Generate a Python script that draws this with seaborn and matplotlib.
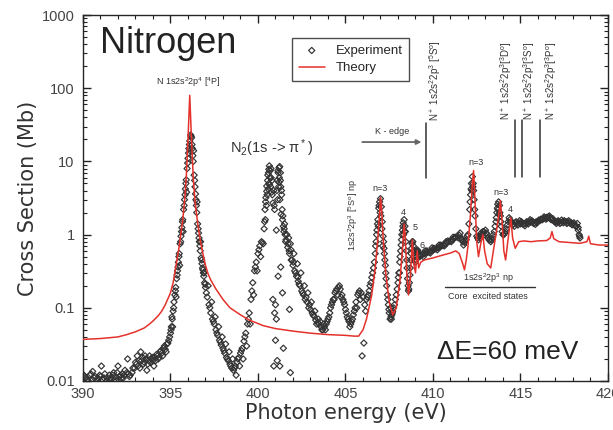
#!/usr/bin/env python3

import matplotlib
matplotlib.use("Agg")
import matplotlib.pyplot as plt
from matplotlib.ticker import MultipleLocator, LogLocator, FuncFormatter, NullFormatter
import seaborn as sns
import pandas as pd
import numpy as np

# ===================== DATA =====================

# Experiment (photon energy in eV, cross section in Mb)
exp_energy_pre = [390.05, 390.15, 390.3, 390.4, 390.55, 390.65, 390.8, 390.95, 391.05, 391.2,
                  391.35, 391.5, 391.6, 391.75, 391.9, 392.0, 392.15, 392.3, 392.4, 392.55,
                  392.7, 392.85, 393.0, 393.1, 393.2, 393.3, 393.4, 393.5, 393.6, 393.7,
                  393.8, 393.9, 394.0, 394.1, 394.2, 394.3, 394.4, 394.5, 394.6, 394.7,
                  394.8, 394.9, 390.5, 391.0, 391.8, 392.2, 392.6, 393.25, 393.65, 394.05,
                  390.1, 390.25, 390.45, 390.7, 390.85, 391.1, 391.25, 391.4, 391.55, 391.7,
                  391.85, 391.95, 392.1, 392.25, 392.35, 392.5, 392.65, 392.8, 392.95, 393.05,
                  393.15, 393.35, 393.45, 393.55, 393.75, 393.85, 393.95, 394.15, 394.25, 394.35,
                  394.45, 394.55, 394.65, 394.75, 394.85, 394.95]
exp_cross_pre = [0.012, 0.011, 0.010, 0.012, 0.0135, 0.011, 0.010, 0.012, 0.016, 0.011,
                 0.010, 0.012, 0.011, 0.013, 0.010, 0.016, 0.012, 0.011, 0.014, 0.020,
                 0.012, 0.015, 0.018, 0.022, 0.019, 0.025, 0.021, 0.018, 0.020, 0.017,
                 0.022, 0.020, 0.019, 0.021, 0.023, 0.020, 0.025, 0.024, 0.028, 0.027,
                 0.032, 0.036, 0.0105, 0.0115, 0.0105, 0.011, 0.0125, 0.015, 0.014, 0.016,
                 0.0115, 0.0105, 0.0125, 0.0115, 0.011, 0.0105, 0.0125, 0.011, 0.0105, 0.012,
                 0.0115, 0.013, 0.0115, 0.0125, 0.012, 0.013, 0.0115, 0.013, 0.015, 0.017,
                 0.016, 0.019, 0.017, 0.022, 0.019, 0.018, 0.021, 0.019, 0.022, 0.021,
                 0.026, 0.022, 0.030, 0.025, 0.033, 0.040]

exp_energy_peak = [395.0, 395.05, 395.1, 395.15, 395.2, 395.25, 395.3, 395.35, 395.4, 395.45,
                   395.5, 395.55, 395.6, 395.65, 395.7, 395.75, 395.8, 395.85, 395.9, 395.95,
                   396.0, 396.05, 396.1, 396.15, 396.2, 396.25, 396.3, 396.35, 396.4, 396.45,
                   396.5, 396.55, 396.6, 396.65, 396.7, 396.75, 396.8, 396.85, 396.9, 396.95,
                   397.0, 397.1, 397.2, 397.3, 397.4, 397.5, 397.6, 397.7, 397.8, 397.9,
                   398.0, 398.1, 398.2, 398.3, 398.4, 398.5, 398.6, 398.7, 398.8, 398.9,
                   399.0, 399.1, 399.2, 399.3, 399.4, 399.5, 399.6, 399.7, 399.8, 399.9,
                   400.0, 400.1, 400.2, 400.3,
                   395.12, 395.32, 395.52, 395.72, 395.92, 396.12, 396.32, 396.52, 396.72, 396.92,
                   397.15, 397.35, 397.55, 397.75, 397.95, 398.15, 398.35, 398.55, 398.75, 398.95,
                   399.15, 399.35, 399.55, 399.75, 399.95, 400.15,
                   395.03, 395.08, 395.18, 395.28, 395.38, 395.43, 395.48, 395.58, 395.63, 395.68,
                   395.78, 395.83, 395.88, 395.98, 396.03, 396.08, 396.18, 396.23, 396.28, 396.38,
                   396.43, 396.48, 396.58, 396.63, 396.68, 396.78, 396.83, 396.88, 396.98, 397.05,
                   397.25, 397.45, 397.65, 397.85, 398.05, 398.25, 398.45, 398.65, 398.85, 399.05,
                   399.25, 399.45, 399.65, 399.85, 400.05, 400.25]
exp_cross_peak = [0.045, 0.055, 0.07, 0.09, 0.12, 0.15, 0.19, 0.25, 0.32, 0.42,
                  0.55, 0.75, 0.95, 1.25, 1.6, 2.2, 3.0, 4.2, 5.6, 8.0,
                  11.0, 15.0, 19.0, 23.0, 21.0, 15.0, 10.0, 6.5, 4.5, 3.0,
                  2.0, 1.4, 1.05, 0.8, 0.6, 0.48, 0.4, 0.33, 0.27, 0.22,
                  0.19, 0.14, 0.11, 0.085, 0.07, 0.06, 0.05, 0.042, 0.036, 0.031,
                  0.028, 0.024, 0.021, 0.019, 0.017, 0.015, 0.014, 0.016, 0.018, 0.021,
                  0.024, 0.028, 0.035, 0.045, 0.06, 0.085, 0.13, 0.22, 0.32, 0.42,
                  0.55, 0.7, 0.8, 0.75,
                  0.055, 0.14, 0.38, 1.1, 3.8, 14.0, 14.0, 2.8, 0.8, 0.3,
                  0.2, 0.12, 0.075, 0.055, 0.04, 0.032, 0.025, 0.02, 0.012, 0.016,
                  0.02, 0.03, 0.06, 0.15, 0.32, 0.5,
                  0.05, 0.075, 0.1, 0.17, 0.28, 0.36, 0.5, 0.8, 1.1, 1.5,
                  2.5, 3.5, 5.0, 9.5, 13.0, 17.0, 22.0, 17.0, 12.0, 5.5,
                  3.6, 2.5, 1.2, 0.9, 0.7, 0.45, 0.35, 0.3, 0.21, 0.16,
                  0.1, 0.065, 0.045, 0.034, 0.026, 0.02, 0.016, 0.015, 0.02, 0.026,
                  0.04, 0.07, 0.17, 0.36, 0.62, 0.78]

exp_energy_n2 = [400.35, 400.4, 400.42, 400.45, 400.48, 400.5, 400.52, 400.55, 400.58, 400.6,
                 400.62, 400.65, 400.68, 400.7, 400.72, 400.75, 400.78, 400.8, 400.85, 400.9,
                 400.95, 401.0, 401.05, 401.1, 401.12, 401.15, 401.18, 401.2, 401.22, 401.25,
                 401.28, 401.3, 401.32, 401.35, 401.38, 401.4, 401.45, 401.5, 401.55, 401.6,
                 401.7, 401.75, 401.8, 401.85, 401.9, 402.0, 402.1, 402.2, 402.3, 402.4,
                 402.5, 402.6, 402.7, 402.8, 402.9, 403.0, 403.1, 403.2, 403.3, 403.4,
                 400.85, 400.95, 401.0, 401.1, 401.25, 401.45, 401.8, 401.3, 401.05, 400.9,
                 401.15, 401.4, 401.85, 402.05, 402.25, 402.45, 402.65, 402.85, 403.05, 403.25,
                 400.38, 400.44, 400.5, 400.56, 400.62, 400.66, 400.74, 400.82, 400.92, 401.08,
                 401.14, 401.2, 401.24, 401.28, 401.34, 401.42, 401.48, 401.52, 401.58, 401.65,
                 401.72, 401.78, 401.88, 401.95, 402.02, 402.15, 402.28, 402.35, 402.55, 402.75,
                 402.95, 403.15, 403.35, 403.45]
exp_cross_n2 = [1.2, 2.2, 1.6, 3.2, 2.5, 4.6, 3.5, 5.5, 4.2, 7.0,
                5.0, 8.7, 6.0, 7.5, 4.5, 6.0, 3.8, 5.5, 2.7, 4.0,
                2.2, 0.11, 1.15, 5.5, 3.0, 7.0, 4.5, 8.2, 6.0, 3.0,
                7.0, 4.5, 1.9, 3.5, 2.2, 1.6, 1.3, 1.2, 1.0, 0.85,
                0.67, 0.9, 0.55, 0.75, 0.45, 0.38, 0.32, 0.27, 0.23, 0.2,
                0.17, 0.15, 0.13, 0.12, 0.1, 0.095, 0.085, 0.077, 0.068, 0.063,
                0.13, 0.085, 0.036, 0.019, 0.016, 0.028, 0.095, 0.36, 0.07, 0.016,
                0.27, 0.16, 0.013, 0.55, 0.4, 0.3, 0.2, 0.16, 0.12, 0.09,
                1.5, 2.8, 3.9, 6.5, 7.8, 4.8, 8.0, 3.5, 2.5, 4.0,
                7.5, 5.2, 8.5, 5.5, 4.0, 1.8, 1.1, 1.4, 0.8, 1.0,
                0.75, 0.6, 0.62, 0.45, 0.42, 0.3, 0.26, 0.21, 0.16, 0.14,
                0.11, 0.08, 0.06, 0.07]

exp_energy_mid = [403.5, 403.6, 403.7, 403.8, 403.9, 404.0, 404.1, 404.2, 404.3, 404.4,
                  404.5, 404.6, 404.7, 404.8, 404.9, 405.0, 405.1, 405.2, 405.3, 405.4,
                  405.5, 405.6, 405.7, 405.8, 405.9, 406.0, 406.1, 406.2, 406.3, 406.4,
                  406.5, 406.6, 404.35, 404.55, 404.75, 405.65, 405.85, 405.95, 406.05, 406.15,
                  403.55, 403.65, 403.75, 403.85, 403.95, 404.05, 404.15, 404.25, 404.45, 404.65,
                  404.85, 404.95, 405.05, 405.15, 405.25, 405.35, 405.45, 405.55, 405.75, 406.25,
                  406.35, 406.45, 406.55]
exp_cross_mid = [0.06, 0.055, 0.05, 0.055, 0.06, 0.07, 0.085, 0.11, 0.13, 0.16,
                 0.18, 0.19, 0.18, 0.15, 0.12, 0.095, 0.075, 0.065, 0.06, 0.07,
                 0.09, 0.12, 0.15, 0.17, 0.16, 0.14, 0.11, 0.13, 0.15, 0.2,
                 0.26, 0.35, 0.13, 0.15, 0.14, 0.1, 0.13, 0.022, 0.033, 0.09,
                 0.065, 0.05, 0.06, 0.05, 0.065, 0.075, 0.1, 0.12, 0.17, 0.2,
                 0.13, 0.11, 0.085, 0.07, 0.055, 0.065, 0.08, 0.1, 0.16, 0.14,
                 0.17, 0.22, 0.3]

exp_energy_ryd = [406.65, 406.7, 406.75, 406.8, 406.85, 406.9, 406.95, 407.0, 407.05, 407.1,
                  407.15, 407.2, 407.25, 407.3, 407.35, 407.4, 407.45, 407.5, 407.55, 407.6,
                  407.65, 407.7, 407.8, 407.9, 408.0, 408.05, 408.1, 408.15, 408.2, 408.25,
                  408.3, 408.35, 408.4, 408.45, 408.5, 408.55, 408.6, 408.65, 408.7, 408.75,
                  408.8, 408.85, 408.9, 408.95, 409.0, 409.05, 409.1, 409.15, 409.2, 409.25,
                  409.3, 406.98, 407.02, 407.08, 408.32, 408.38, 406.88, 407.12, 407.58, 408.08,
                  406.72, 406.78, 406.83, 406.92, 407.18, 407.22, 407.28, 407.32, 407.42, 407.48,
                  407.62, 407.68, 407.75, 407.85, 407.95, 408.02, 408.12, 408.18, 408.22, 408.28,
                  408.42, 408.48, 408.52, 408.58, 408.62, 408.68, 408.72, 408.78, 408.82, 408.88,
                  408.92, 409.02, 409.08, 409.12, 409.22]
exp_cross_ryd = [0.42, 0.55, 0.8, 1.15, 1.6, 2.3, 2.8, 3.1, 2.4, 1.5,
                 0.95, 0.65, 0.45, 0.3, 0.2, 0.15, 0.11, 0.085, 0.07, 0.075,
                 0.08, 0.09, 0.11, 0.15, 0.22, 0.3, 0.42, 0.6, 0.85, 1.15,
                 1.45, 1.6, 1.3, 0.8, 0.45, 0.25, 0.17, 0.22, 0.35, 0.55,
                 0.75, 0.8, 0.6, 0.45, 0.42, 0.5, 0.62, 0.58, 0.52, 0.5,
                 0.52, 2.0, 1.8, 1.2, 1.0, 1.1, 1.3, 0.7, 0.1, 0.3,
                 0.7, 1.0, 1.4, 2.5, 0.8, 0.55, 0.38, 0.25, 0.13, 0.095,
                 0.07, 0.085, 0.1, 0.13, 0.18, 0.26, 0.5, 0.72, 1.0, 1.3,
                 1.1, 0.6, 0.35, 0.2, 0.18, 0.28, 0.45, 0.65, 0.8, 0.7,
                 0.5, 0.45, 0.58, 0.6, 0.52]

exp_energy_high = [409.4, 409.5, 409.6, 409.7, 409.8, 409.9, 410.0, 410.1, 410.2, 410.3,
                   410.4, 410.5, 410.6, 410.7, 410.8, 410.9, 411.0, 411.1, 411.2, 411.3,
                   411.4, 411.5, 411.6, 411.7, 411.8, 411.9, 412.0, 412.05, 412.1, 412.15,
                   412.2, 412.25, 412.3, 412.35, 412.4, 412.45, 412.5, 412.6, 412.7, 412.8,
                   412.9, 413.0, 413.1, 413.2, 413.3, 413.4, 413.5, 413.6, 413.65, 413.7,
                   413.75, 413.8, 413.85, 413.9, 413.95, 414.0, 414.1, 414.2, 414.3, 414.35,
                   414.4, 414.5, 414.6, 414.7, 414.8, 414.9, 415.0, 415.1, 415.2, 415.3,
                   415.4, 415.5, 415.6, 415.7, 415.8, 415.9, 416.0, 416.1, 416.2, 416.3,
                   416.4, 416.5, 416.6, 416.7, 416.8, 416.9, 417.0, 417.1, 417.2, 417.3,
                   417.4, 417.5, 417.6, 417.7, 417.8, 417.9, 418.0, 418.1, 418.2, 418.3,
                   418.35, 418.4,
                   409.55, 409.95, 410.35, 410.75, 411.15, 411.55, 412.22, 412.28, 413.72, 413.78,
                   414.65, 414.95, 415.25, 415.55, 415.85, 416.15, 416.45, 416.75, 417.05, 417.35,
                   417.65, 417.95, 418.25,
                   409.45, 409.65, 409.85, 410.05, 410.25, 410.45, 410.65, 410.85, 411.05, 411.25,
                   411.45, 411.65, 411.75, 411.85, 411.95, 412.12, 412.18, 412.32, 412.38, 412.55,
                   412.65, 412.75, 412.85, 412.95, 413.05, 413.15, 413.25, 413.35, 413.45, 413.55,
                   413.62, 413.68, 413.82, 413.88, 414.05, 414.15, 414.25, 414.45, 414.55, 414.75,
                   414.85, 415.05, 415.15, 415.35, 415.45, 415.65, 415.75, 415.95, 416.05, 416.25,
                   416.35, 416.55, 416.65, 416.85, 416.95, 417.15, 417.25, 417.45, 417.55, 417.75,
                   417.85, 418.05, 418.15, 418.3, 418.38]
exp_cross_high = [0.53, 0.55, 0.56, 0.57, 0.58, 0.6, 0.62, 0.63, 0.65, 0.66,
                  0.68, 0.7, 0.72, 0.74, 0.77, 0.8, 0.82, 0.85, 0.88, 0.92,
                  0.95, 0.98, 0.9, 0.8, 0.78, 0.85, 1.0, 1.4, 2.2, 3.5,
                  5.0, 6.2, 5.0, 3.0, 1.8, 1.2, 0.95, 0.85, 0.9, 1.0,
                  1.1, 1.15, 1.0, 0.85, 0.8, 0.9, 1.1, 1.5, 2.0, 2.6,
                  2.8, 2.5, 1.8, 1.3, 1.1, 1.0, 1.05, 1.2, 1.5, 1.7,
                  1.6, 1.45, 1.4, 1.45, 1.4, 1.45, 1.4, 1.45, 1.4, 1.42,
                  1.45, 1.5, 1.48, 1.5, 1.45, 1.5, 1.52, 1.55, 1.6, 1.65,
                  1.7, 1.72, 1.75, 1.7, 1.6, 1.55, 1.5, 1.48, 1.5, 1.45,
                  1.5, 1.55, 1.5, 1.45, 1.5, 1.45, 1.4, 1.35, 1.3, 1.15,
                  1.0, 0.9,
                  0.6, 0.66, 0.72, 0.8, 0.92, 1.05, 4.0, 4.5, 2.2, 1.9,
                  1.3, 1.55, 1.32, 1.6, 1.38, 1.62, 1.62, 1.6, 1.42, 1.58,
                  1.42, 1.36, 1.42,
                  0.5, 0.6, 0.56, 0.65, 0.62, 0.72, 0.7, 0.82, 0.8, 0.92,
                  0.9, 0.85, 0.72, 0.8, 0.95, 2.8, 4.2, 4.0, 2.2, 0.9,
                  0.95, 1.05, 1.1, 1.0, 1.05, 0.9, 0.85, 0.85, 1.0, 1.3,
                  1.7, 2.3, 2.0, 1.5, 1.0, 1.1, 1.35, 1.5, 1.35, 1.5,
                  1.35, 1.5, 1.38, 1.5, 1.4, 1.55, 1.42, 1.45, 1.58, 1.6,
                  1.75, 1.68, 1.8, 1.65, 1.5, 1.55, 1.42, 1.45, 1.5, 1.55,
                  1.42, 1.45, 1.3, 1.25, 0.95]

# Theory curve
theory_energy = [390.0, 391.0, 392.0, 392.5, 393.0, 393.5, 393.8, 394.0, 394.3, 394.5,
                 394.7, 395.0, 395.15, 395.3, 395.4, 395.5, 395.6, 395.7, 395.8, 395.9,
                 396.0, 396.05, 396.1, 396.15, 396.2, 396.3, 396.4, 396.5, 396.6, 396.7,
                 396.85, 397.0, 397.15, 397.3, 397.6, 398.0, 398.4, 399.0, 399.5, 400.3,
                 401.0, 402.0, 403.0, 404.0, 405.0, 405.5, 405.75, 406.0, 406.2, 406.5,
                 406.7, 406.85, 406.95, 407.0, 407.05, 407.15, 407.3, 407.5, 407.7, 407.9,
                 408.1, 408.25, 408.35, 408.42, 408.5, 408.6, 408.7, 408.82, 408.9, 409.0,
                 409.1, 409.18, 409.3, 409.5, 410.0, 410.5, 411.0, 411.3, 411.5, 411.7,
                 411.8, 411.9, 412.0, 412.15, 412.25, 412.32, 412.4, 412.5, 412.6, 412.75,
                 412.85, 412.95, 413.1, 413.3, 413.45, 413.6, 413.75, 413.85, 413.95, 414.05,
                 414.15, 414.3, 414.45, 414.55, 414.7, 414.9, 415.2, 415.6, 416.0, 416.5,
                 416.7, 416.8, 416.9, 417.2, 417.8, 418.4, 418.8, 418.9, 419.0, 419.5,
                 420.0]
theory_cross = [0.037, 0.038, 0.04, 0.043, 0.047, 0.053, 0.06, 0.066, 0.078, 0.09,
                0.11, 0.16, 0.22, 0.36, 0.5, 0.7, 1.05, 1.6, 2.8, 6.0,
                20.0, 40.0, 80.0, 40.0, 20.0, 6.0, 2.9, 1.8, 1.2, 0.84,
                0.55, 0.38, 0.29, 0.24, 0.18, 0.13, 0.1, 0.08, 0.068, 0.057,
                0.052, 0.048, 0.045, 0.043, 0.042, 0.041, 0.041, 0.05, 0.07, 0.15,
                0.35, 0.9, 2.0, 3.2, 2.5, 0.9, 0.3, 0.12, 0.08, 0.1,
                0.22, 0.6, 1.4, 0.9, 0.3, 0.15, 0.25, 0.85, 0.4, 0.3,
                0.6, 0.35, 0.42, 0.45, 0.48, 0.52, 0.56, 0.6, 0.55, 0.4,
                0.33, 0.45, 0.7, 2.0, 5.0, 7.5, 3.0, 0.8, 0.5, 0.8,
                1.0, 0.6, 0.4, 0.35, 0.6, 1.0, 1.8, 2.9, 1.5, 0.6,
                0.45, 0.9, 1.7, 0.9, 0.65, 0.8, 0.82, 0.8, 0.82, 0.83,
                0.9, 1.1, 0.88, 0.8, 0.78, 0.76, 0.8, 0.95, 0.75, 0.72,
                0.72]

# ===================== FIGURE =====================

sns.set_style("ticks")
plt.rcParams["font.family"] = ["Liberation Sans", "DejaVu Sans"]
plt.rcParams["mathtext.default"] = "regular"
plt.rcParams["axes.linewidth"] = 1.0

exp_df = pd.DataFrame({
    "energy": exp_energy_pre + exp_energy_peak + exp_energy_n2 + exp_energy_mid
              + exp_energy_ryd + exp_energy_high,
    "cross": exp_cross_pre + exp_cross_peak + exp_cross_n2 + exp_cross_mid
             + exp_cross_ryd + exp_cross_high,
})
theory_df = pd.DataFrame({"energy": theory_energy, "cross": theory_cross})

fig = plt.figure(figsize=(6.13, 4.30), dpi=100)
ax = fig.add_axes([0.1354, 0.114, 0.8564, 0.851])

sns.scatterplot(data=exp_df, x="energy", y="cross", ax=ax, marker="D", s=10,
                facecolor="none", edgecolor="#333333", linewidth=0.85,
                label="Experiment", zorder=2)
sns.lineplot(data=theory_df, x="energy", y="cross", ax=ax, color="#e4312b",
             lw=1.1, sort=False, estimator=None, label="Theory", zorder=3)

ax.set_yscale("log")
ax.set_xlim(390, 420)
ax.set_ylim(0.01, 1000)
ax.xaxis.set_major_locator(MultipleLocator(5))
ax.xaxis.set_minor_locator(MultipleLocator(1))
ax.yaxis.set_major_locator(LogLocator(base=10, numticks=10))
ax.yaxis.set_minor_locator(LogLocator(base=10, subs=np.arange(2, 10), numticks=20))
ax.yaxis.set_major_formatter(FuncFormatter(lambda v, p: f"{v:g}"))
ax.yaxis.set_minor_formatter(NullFormatter())
ax.tick_params(which="both", direction="in", top=True, right=True,
               labelsize=10.5, labelcolor="#444444", color="#222222")
ax.tick_params(which="major", length=6, width=1.0, pad=4)
ax.tick_params(which="minor", length=3, width=0.8)
ax.tick_params(axis="y", which="major", pad=6)

ax.set_xlabel("Photon energy (eV)", fontsize=15, color="#333333", labelpad=2,
              family=["DejaVu Sans"])
ax.set_ylabel("Cross Section (Mb)", fontsize=15, color="#333333", labelpad=3,
              family=["DejaVu Sans"])

leg = ax.legend(loc="upper left", bbox_to_anchor=(0.398, 0.937), borderaxespad=0,
                frameon=True, fancybox=False, edgecolor="#222222", fontsize=9.5,
                handlelength=2.0, borderpad=0.5, labelspacing=0.4)
leg.get_frame().set_linewidth(1.0)

# ===================== ANNOTATIONS =====================

ax.text(0.032, 0.921, "Nitrogen", transform=ax.transAxes, fontsize=26,
        color="#222222", ha="left", va="center")
ax.text(0.674, 0.079, "ΔE=60 meV", transform=ax.transAxes, fontsize=19,
        color="#222222", ha="left", va="center")

ax.text(396.0, 121, "N 1s2s$^2$2p$^4$ [$^4$P]", fontsize=6.5, ha="center",
        va="center", color="#333333")
ax.text(398.4, 15.2, "N$_2$(1s -> π$^*$)", fontsize=10.5, ha="left",
        va="center", color="#333333")

ax.text(407.66, 25.3, "K - edge", fontsize=6.5, ha="center", va="center",
        color="#333333")
ax.annotate("", xy=(409.5, 18.4), xytext=(405.8, 18.4),
            arrowprops=dict(arrowstyle="-|>", color="#666666", lw=1.3,
                            mutation_scale=7))
ax.plot([409.6, 409.6], [5.9, 33.5], color="#333333", lw=1.1)
ax.text(410.1, 128, "N$^+$ 1s2s$^2$2p$^3$ [$^5$S$^o$]", rotation=90,
        fontsize=7, ha="center", va="center", color="#333333")

for xe in [414.7, 415.1, 416.1]:
    ax.plot([xe, xe], [6.1, 36.8], color="#333333", lw=1.1)
for xt, term in [(414.17, "$^3$D$^o$"), (415.49, "$^3$S$^o$"), (416.74, "$^3$P$^o$")]:
    ax.text(xt, 128, "N$^+$ 1s2s$^2$2p$^3$[" + term + "]", rotation=90,
            fontsize=7, ha="center", va="center", color="#333333")

ax.text(405.45, 1.85, "1s2s$^2$2p$^3$ [$^5$S$^o$] np", rotation=90,
        fontsize=6.5, ha="center", va="center", color="#333333")
for xt, yt, lab in [(407.0, 4.3, "n=3"), (408.3, 2.0, "4"), (409.0, 1.27, "5"),
                    (409.4, 0.72, "6"), (412.46, 9.8, "n=3"), (413.9, 3.8, "n=3"),
                    (414.4, 2.17, "4")]:
    ax.text(xt, yt, lab, fontsize=6.5, ha="center", va="center", color="#333333")

ax.text(413.14, 0.255, "1s2s$^2$2p$^3$ np", fontsize=6.5, ha="center",
        va="center", color="#333333")
ax.plot([410.69, 415.83], [0.192, 0.192], color="#333333", lw=1.0)
ax.text(413.14, 0.141, "Core  excited states", fontsize=6.5, ha="center",
        va="center", color="#333333")

fig.savefig("out.png", dpi=100)
plt.close("all")
